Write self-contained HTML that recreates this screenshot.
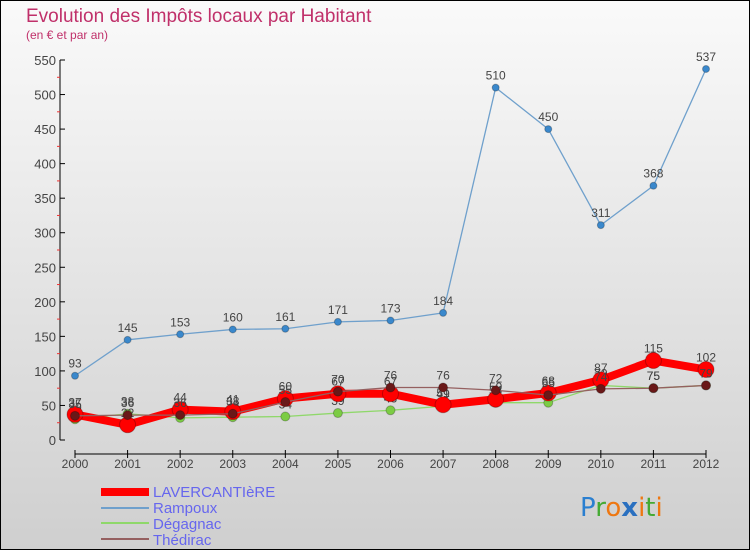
<!DOCTYPE html>
<html><head><meta charset="utf-8"><style>
body{margin:0}
svg{display:block;font-family:"Liberation Sans",sans-serif}
</style></head><body>
<svg id="c" width="750" height="550">
<defs><linearGradient id="bg" x1="0" y1="0" x2="0" y2="1"><stop offset="0" stop-color="#fafafa"/><stop offset="1" stop-color="#cfcfcf"/></linearGradient></defs>
<rect x="0.5" y="0.5" width="749" height="549" fill="url(#bg)" stroke="#000"/>
<text x="26" y="22" font-size="19" fill="#c0306a">Evolution des Impôts locaux par Habitant</text>
<text x="26" y="39" font-size="12" fill="#c0306a">(en € et par an)</text>
<g id="axes"></g><g id="series"></g>
<g>
<rect x="101" y="488" width="48" height="8" fill="#f00"/>
<text x="153" y="497" font-size="15" fill="#6666ee">LAVERCANTIèRE</text>
<line x1="101" y1="508" x2="149" y2="508" stroke="#6fa0cc" stroke-width="2"/>
<text x="153" y="513" font-size="15" fill="#6666ee">Rampoux</text>
<line x1="101" y1="523" x2="149" y2="523" stroke="#8fd86a" stroke-width="2"/>
<text x="153" y="529" font-size="15" fill="#6666ee">Dégagnac</text>
<line x1="101" y1="539" x2="149" y2="539" stroke="#956060" stroke-width="2"/>
<text x="153" y="545" font-size="15" fill="#6666ee">Thédirac</text>
</g>
<text x="580" y="516" font-size="26" font-family="'DejaVu Sans',sans-serif"><tspan fill="#2a7fd0">P</tspan><tspan fill="#44aa33">r</tspan><tspan fill="#ee7711">o</tspan><tspan fill="#2a70c0" font-weight="bold">x</tspan><tspan fill="#ee7711">i</tspan><tspan fill="#44aa33">t</tspan><tspan fill="#ee7711">i</tspan></text>
</svg>
<script>
const years=["2000","2001","2002","2003","2004","2005","2006","2007","2008","2009","2010","2011","2012"];
const yTicks=[0,50,100,150,200,250,300,350,400,450,500,550];
const lavercantiere=[37,22,44,41,60,67,67,51,59,68,87,115,102];
const rampoux=[93,145,153,160,161,171,173,184,510,450,311,368,537];
const degagnac=[30,38,32,33,34,39,43,49,54,54,79,75,79];
const thedirac=[35,36,36,38,55,70,76,76,72,65,74,75,79];
const NS="http://www.w3.org/2000/svg";
const X=i=>75+i*(706-75)/12, Y=v=>440-v*(380/550);
function mk(t,a,p){const e=document.createElementNS(NS,t);for(const k in a)e.setAttribute(k,a[k]);p.appendChild(e);return e;}
const ax=document.getElementById('axes');
mk('line',{x1:60,y1:60,x2:60,y2:440,stroke:'#000'},ax);
yTicks.forEach(v=>{
 mk('line',{x1:60,y1:Y(v),x2:65,y2:Y(v),stroke:'#000'},ax);
 if(v<550)mk('line',{x1:57,y1:Y(v+25),x2:60,y2:Y(v+25),stroke:'#e33'},ax);
 const t=mk('text',{x:56,y:Y(v)+5,'font-size':13,fill:'#444','text-anchor':'end'},ax);
 
 
 t.textContent=v;
});
mk('line',{x1:X(0),y1:454,x2:X(12),y2:454,stroke:'#000'},ax);
years.forEach((y,i)=>{
 mk('line',{x1:X(i),y1:450,x2:X(i),y2:458,stroke:'#000'},ax);
 const t=mk('text',{x:X(i),y:468,'font-size':12,fill:'#444','text-anchor':'middle'},ax);
 
 
 t.textContent=y;
});
const sg=document.getElementById('series');
function series(name,d,col,w,r,dot){
 const g=mk('g',{},sg);
 
 
 mk('polyline',{points:d.map((v,i)=>X(i)+','+Y(v)).join(' '),fill:'none',stroke:col,'stroke-width':w,'stroke-linejoin':'round'},g);
 d.forEach((v,i)=>{
  const c=mk('circle',{cx:X(i),cy:Y(v),r:r,fill:dot,stroke:'rgba(0,0,0,0.25)'},g);
  
  
  const t=mk('text',{x:X(i),y:Y(v)-8,'font-size':12,fill:'#444','text-anchor':'middle'},g);
  
  
  t.textContent=v;
 });
}
series('rampoux',rampoux,'#6fa0cc',1.3,3.5,'#3a88cc');
series('degagnac',degagnac,'#8fd86a',1.3,4.5,'#7ccc44');
series('lavercantiere',lavercantiere,'#f00',8,8,'#f00');
series('thedirac',thedirac,'#956060',1.3,4.5,'#6a1818');
</script>
</body></html>
